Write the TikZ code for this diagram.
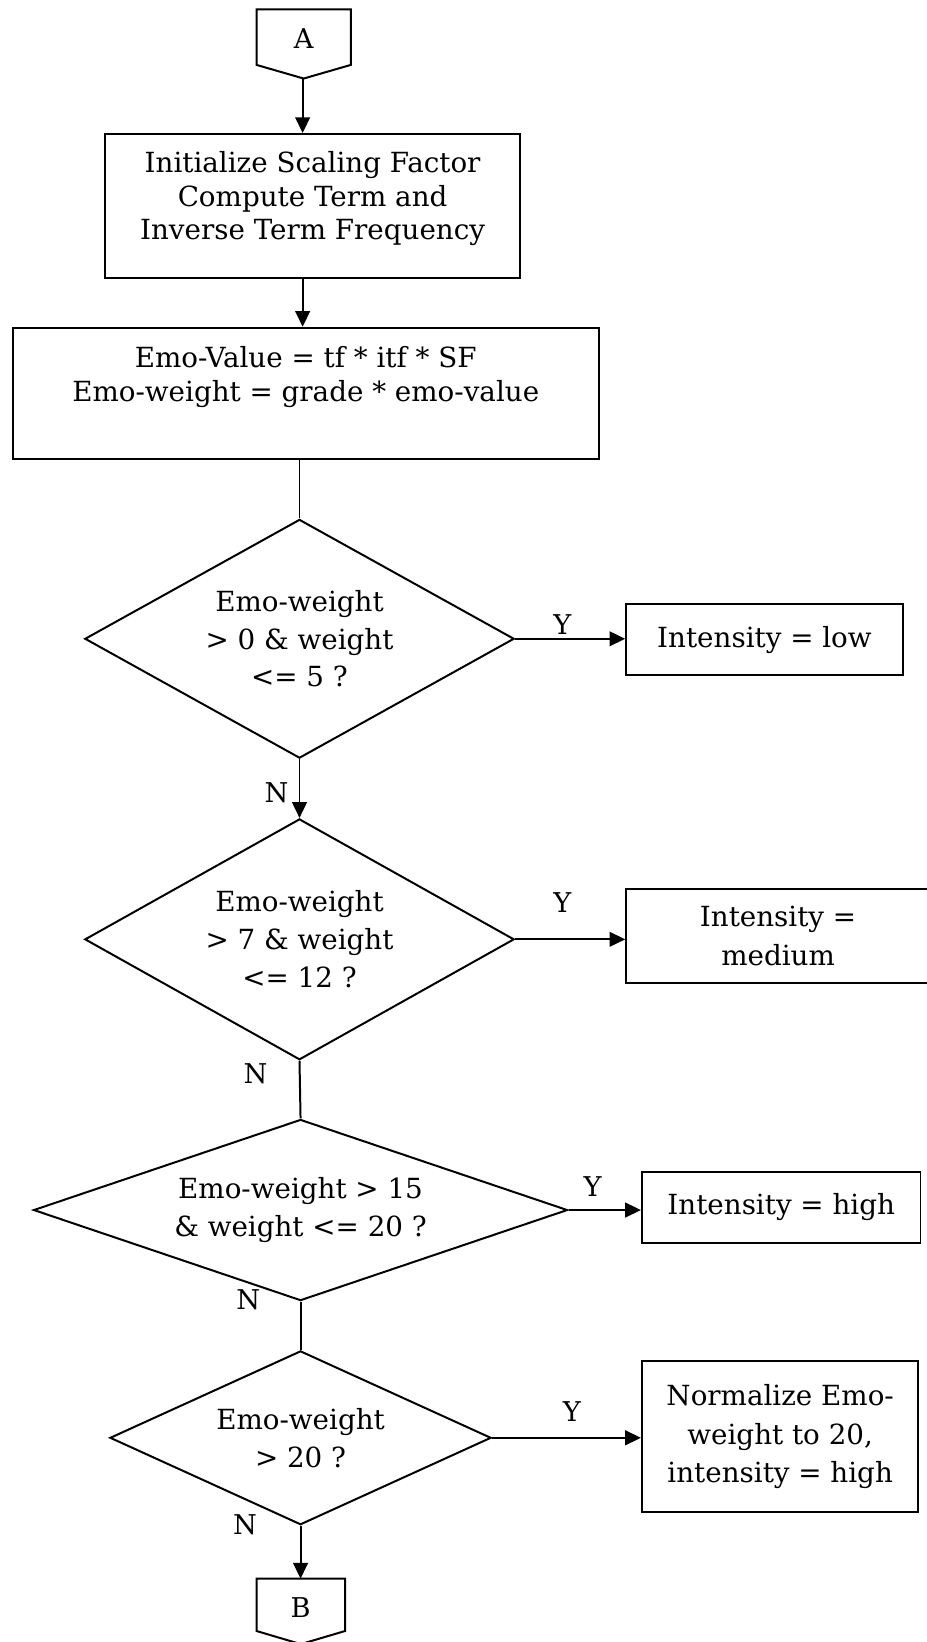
\documentclass[tikz,border=0pt]{standalone}
\usepackage{fontspec}
\setmainfont{DejaVu Serif}
\usetikzlibrary{arrows.meta,shapes.geometric}
\begin{document}
\begin{tikzpicture}[x=1pt,y=-1pt,
  line width=1.9pt, line join=miter,
  flow/.style={-{Triangle[length=15pt,width=14pt]}},
  txt/.style={align=center, inner sep=0pt, font=\fontsize{26.5}{35}\selectfont},
  lbl/.style={inner sep=0pt, font=\fontsize{26}{30}\selectfont},
  stepbox/.style={draw, inner sep=0pt},
  decision/.style={draw, diamond, inner sep=0pt, align=center,
    font=\fontsize{26.5}{36}\selectfont}
]
\clip (0,0) rectangle (885,1568);

% off-page connector A
\draw (245,9) -- (335,9) -- (335,62) -- (290,75) -- (245,62) -- cycle;
\coordinate (Atip) at (289,75);
\node[lbl] (A) at (290,37) {A};

% process boxes
\node[stepbox, minimum width=397pt, minimum height=137pt] (init) at (298.5,196.5) {};
\node[txt, font=\fontsize{26.5}{32}\selectfont] (initT) at (298.5,190)
  {Initialize Scaling Factor\\Compute Term and\\Inverse Term Frequency};

\node[stepbox, minimum width=560pt, minimum height=125pt] (emo) at (292,375.5) {};
\node[txt, font=\fontsize{26.5}{33}\selectfont] (emoT) at (292,360)
  {Emo-Value = tf * itf * SF\\Emo-weight = grade * emo-value};

% decisions
\node[decision, aspect=1.8, minimum width=410pt, minimum height=228pt] (d1) at (286,610)
  {Emo-weight\\> 0 \& weight\\<= 5 ?};
\node[decision, aspect=1.78, minimum width=410pt, minimum height=230pt] (d2) at (286,897)
  {Emo-weight\\> 7 \& weight\\<= 12 ?};
\node[decision, aspect=2.95, minimum width=510pt, minimum height=173pt] (d3) at (287,1155.5)
  {Emo-weight > 15\\\& weight <= 20 ?};
\node[decision, aspect=2.19, minimum width=364pt, minimum height=166pt] (d4) at (287,1373)
  {Emo-weight\\> 20 ?};

% result boxes
\node[stepbox, txt, minimum width=264pt, minimum height=68pt] (low) at (730,611) {Intensity = low};
\node[stepbox, txt, minimum width=290pt, minimum height=90pt, font=\fontsize{26.5}{37}\selectfont]
  (med) at (743,894) {Intensity =\\medium};
\node[stepbox, txt, minimum width=266pt, minimum height=68pt] (high) at (746,1153) {Intensity = high};
\node[stepbox, txt, minimum width=264pt, minimum height=144pt, font=\fontsize{26.5}{37}\selectfont]
  (norm) at (745,1372) {Normalize Emo-\\weight to 20,\\intensity = high};

% off-page connector B
\draw (245,1507.5) -- (329.5,1507.5) -- (329.5,1557.5) -- (287.2,1570) -- (245,1557.5) -- cycle;
\coordinate (Btop) at (287,1507.5);
\node[lbl] (B) at (287,1535) {B};

% main flow
\draw[flow] (Atip) -- (Atip |- init.north);
\draw[flow] (init.south -| Atip) -- (emo.north -| Atip);
\draw (d1.north |- emo.south) -- (d1.north);
\draw[flow] (d1.south) -- (d2.north);
\draw (d2.south) -- (d3.north);
\draw (d3.south) -- (d4.north);
\draw[flow] (d4.south) -- (Btop);

% yes branches
\draw[flow] (d1.east) -- (d1.east -| low.west);
\draw[flow] (d2.east) -- (d2.east -| med.west);
\draw[flow] (d3.east) -- (d3.east -| high.west);
\draw[flow] (d4.east) -- (d4.east -| norm.west);

% branch labels
\node[lbl] (y1) at (537,596) {Y};
\node[lbl] (y2) at (537,862) {Y};
\node[lbl] (y3) at (566,1133) {Y};
\node[lbl] (y4) at (546,1348) {Y};
\node[lbl] (n1) at (264,757) {N};
\node[lbl] (n2) at (244,1025) {N};
\node[lbl] (n3) at (237,1241) {N};
\node[lbl] (n4) at (234,1456) {N};
\end{tikzpicture}
\end{document}
